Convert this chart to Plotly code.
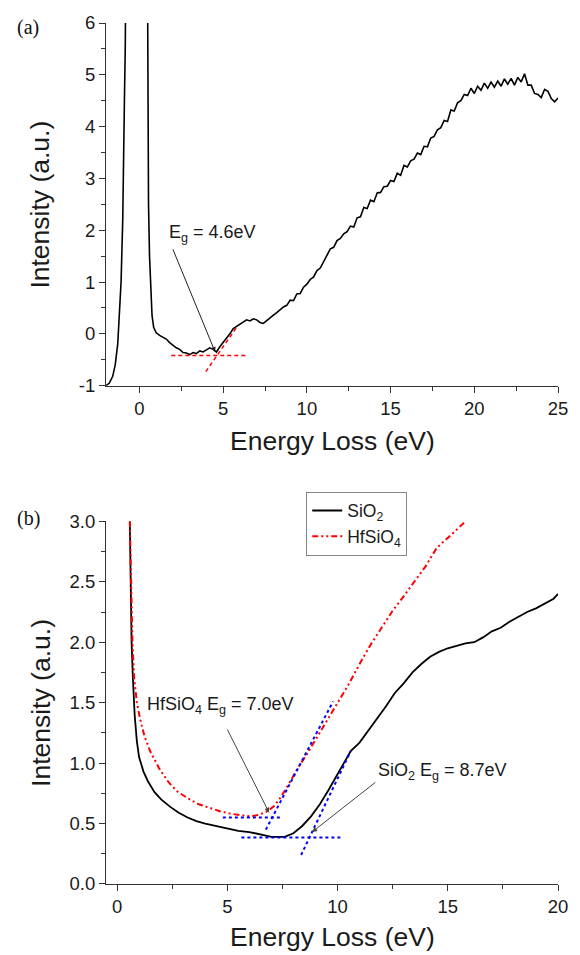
import plotly.graph_objects as go

# ---------------- Panel (a) data ----------------
top_x = [-2.0, -1.8, -1.6, -1.45, -1.3, -1.2, -1.1, -1.0, -0.95, -0.9, -0.85, -0.8, -0.6, 0.0, 0.3,
         0.46, 0.5, 0.54, 0.6, 0.68, 0.75, 0.85, 1.0, 1.2, 1.4, 1.6, 1.8, 2.0, 2.2, 2.4, 2.6, 2.8,
         3.0, 3.2, 3.4, 3.6, 3.8, 4.0, 4.2, 4.4, 4.6, 4.8, 5.0, 5.2, 5.4, 5.6, 5.8, 6.0, 6.2, 6.4,
         6.6, 6.8, 7.0, 7.2, 7.4, 7.6, 7.8, 8.0, 8.2, 8.4, 8.6, 8.8, 9.0, 9.2, 9.4, 9.6, 9.8, 10.0,
         10.2, 10.4, 10.6, 10.8, 11.0, 11.2, 11.4, 11.6, 11.8, 12.0, 12.2, 12.4, 12.6, 12.8, 13.0,
         13.2, 13.4, 13.6, 13.8, 14.0, 14.2, 14.4, 14.6, 14.8, 15.0, 15.2, 15.4, 15.6, 15.8, 16.0,
         16.2, 16.4, 16.6, 16.8, 17.0, 17.2, 17.4, 17.6, 17.8, 18.0, 18.2, 18.4, 18.6, 18.8, 19.0,
         19.2, 19.4, 19.6, 19.8, 20.0, 20.2, 20.4, 20.6, 20.8, 21.0, 21.2, 21.4, 21.6, 21.8, 22.0,
         22.2, 22.4, 22.6, 22.8, 23.0, 23.2, 23.4, 23.6, 23.8, 24.0, 24.2, 24.4, 24.6, 24.8, 25.0]
top_y = [-1.0, -0.95, -0.82, -0.6, -0.2, 0.3, 1.0, 2.2, 3.0, 4.5, 5.5, 7.0, 20.0, 40.0, 20.0,
         7.0, 5.2, 2.5, 1.5, 0.8, 0.35, 0.12, 0.02, -0.03, -0.07, -0.1, -0.17, -0.22, -0.27, -0.30,
         -0.36, -0.37, -0.40, -0.36, -0.38, -0.33, -0.35, -0.31, -0.27, -0.30, -0.35, -0.25, -0.17,
         -0.08, 0.0, 0.1, 0.14, 0.19, 0.23, 0.27, 0.25, 0.29, 0.27, 0.22, 0.20, 0.26, 0.30, 0.36,
         0.41, 0.46, 0.52, 0.55, 0.65, 0.64, 0.77, 0.78, 0.90, 0.96, 1.05, 1.10, 1.22, 1.27, 1.40,
         1.50, 1.64, 1.67, 1.80, 1.84, 1.93, 1.97, 2.08, 2.06, 2.24, 2.26, 2.44, 2.42, 2.58, 2.55,
         2.72, 2.73, 2.84, 2.85, 2.96, 2.94, 3.10, 3.06, 3.25, 3.22, 3.34, 3.37, 3.49, 3.46, 3.62,
         3.61, 3.78, 3.81, 3.94, 3.98, 4.12, 4.10, 4.32, 4.30, 4.46, 4.50, 4.62, 4.60, 4.74, 4.64,
         4.78, 4.70, 4.84, 4.74, 4.86, 4.76, 4.88, 4.78, 4.92, 4.82, 4.93, 4.80, 4.95, 4.86, 5.02,
         4.80, 4.80, 4.64, 4.62, 4.56, 4.72, 4.68, 4.54, 4.48, 4.55]

# tangent construction lines (a)
a_base_x = [1.9, 6.4]
a_base_y = [-0.42, -0.42]
a_tan_x = [3.96, 5.77]
a_tan_y = [-0.73, 0.11]

# ---------------- Panel (b) data ----------------
sio2_x = [0.58, 0.62, 0.66, 0.72, 0.8, 0.9, 1.0, 1.2, 1.4, 1.7, 2.0, 2.4, 2.8, 3.2, 3.6, 4.0, 4.5,
          5.0, 5.5, 6.0, 6.5, 7.0, 7.3, 7.6, 8.0, 8.4, 8.8, 9.2, 9.6, 10.0, 10.3, 10.6, 11.0, 11.4,
          11.8, 12.2, 12.6, 13.0, 13.4, 13.8, 14.2, 14.6, 15.0, 15.4, 15.8, 16.2, 16.6, 17.0, 17.4,
          17.8, 18.2, 18.6, 19.0, 19.4, 19.8, 20.0]
sio2_y = [3.0, 2.5, 2.0, 1.7, 1.4, 1.18, 1.05, 0.93, 0.85, 0.76, 0.70, 0.64, 0.59, 0.55, 0.52, 0.50,
          0.48, 0.46, 0.44, 0.43, 0.41, 0.39, 0.39, 0.39, 0.42, 0.48, 0.56, 0.66, 0.78, 0.91, 1.01,
          1.10, 1.17, 1.27, 1.36, 1.47, 1.58, 1.66, 1.75, 1.82, 1.88, 1.92, 1.95, 1.97, 1.99, 2.00,
          2.04, 2.09, 2.12, 2.17, 2.21, 2.25, 2.28, 2.32, 2.36, 2.40]

hf_x = [0.58, 0.63, 0.7, 0.78, 0.9, 1.04, 1.25, 1.5, 1.9, 2.3, 2.7, 3.2, 3.7, 4.2, 4.7, 5.2, 5.6,
        6.0, 6.4, 6.8, 7.1, 7.4, 7.8, 8.2, 8.6, 9.0, 9.5, 10.0, 10.5, 11.0, 11.5, 12.0, 12.5, 13.0,
        13.5, 14.0, 14.5, 15.0, 15.4, 15.8]
hf_y = [3.0, 2.5, 2.0, 1.7, 1.5, 1.37, 1.22, 1.10, 0.96, 0.85, 0.77, 0.71, 0.66, 0.63, 0.60, 0.58,
        0.57, 0.56, 0.57, 0.60, 0.64, 0.71, 0.83, 0.96, 1.07, 1.19, 1.35, 1.50, 1.65, 1.82, 1.98,
        2.12, 2.26, 2.38, 2.50, 2.63, 2.78, 2.86, 2.93, 3.0]

# tangent construction lines (b)
hf_base_x = [4.8, 7.5]
hf_base_y = [0.55, 0.55]
hf_tan_x = [6.75, 9.8]
hf_tan_y = [0.45, 1.51]
si_base_x = [5.64, 10.2]
si_base_y = [0.385, 0.385]
si_tan_x = [8.35, 10.6]
si_tan_y = [0.24, 1.10]

# tick labels
a_xticks = [0, 5, 10, 15, 20, 25]
a_yticks = [-1, 0, 1, 2, 3, 4, 5, 6]
a_yticktext = ["-1", "0", "1", "2", "3", "4", "5", "6"]
b_xticks = [0, 5, 10, 15, 20]
b_yticks = [0.0, 0.5, 1.0, 1.5, 2.0, 2.5, 3.0]
b_yticktext = ["0.0", "0.5", "1.0", "1.5", "2.0", "2.5", "3.0"]

FONT = "Liberation Sans, Arial, sans-serif"
AX = "#333333"

fig = go.Figure()

# (a)
fig.add_trace(go.Scatter(x=top_x, y=top_y, mode="lines", line=dict(color="black", width=1.6),
                         xaxis="x", yaxis="y", showlegend=False))
fig.add_trace(go.Scatter(x=a_base_x, y=a_base_y, mode="lines",
                         line=dict(color="red", width=1.5, dash="4px,3px"),
                         xaxis="x", yaxis="y", showlegend=False))
fig.add_trace(go.Scatter(x=a_tan_x, y=a_tan_y, mode="lines",
                         line=dict(color="red", width=1.5, dash="4px,3px"),
                         xaxis="x", yaxis="y", showlegend=False))

# (b)
fig.add_trace(go.Scatter(x=sio2_x, y=sio2_y, mode="lines", name="SiO<sub>2</sub>",
                         line=dict(color="black", width=1.8), xaxis="x2", yaxis="y2"))
fig.add_trace(go.Scatter(x=hf_x, y=hf_y, mode="lines", name="HfSiO<sub>4</sub>",
                         line=dict(color="red", width=2, dash="6px,3px,2px,3px,2px,3px"),
                         xaxis="x2", yaxis="y2"))
for bx, by in [(hf_base_x, hf_base_y), (hf_tan_x, hf_tan_y), (si_base_x, si_base_y), (si_tan_x, si_tan_y)]:
    fig.add_trace(go.Scatter(x=bx, y=by, mode="lines",
                             line=dict(color="blue", width=2, dash="3px,3px"),
                             xaxis="x2", yaxis="y2", showlegend=False))

axis_common = dict(showline=True, linecolor=AX, linewidth=1, ticks="outside", ticklen=6,
                   tickcolor=AX, tickwidth=1, showgrid=False, zeroline=False, mirror=False,
                   tickfont=dict(family=FONT, size=18.5, color="#1a1a1a"))

fig.update_layout(
    width=580, height=955,
    margin=dict(l=106, r=20, t=15, b=71),
    plot_bgcolor="white", paper_bgcolor="white",
    font=dict(family=FONT, color="#1a1a1a"),
    xaxis=dict(domain=[0, 1], range=[-2, 25], anchor="y", tickmode="array", tickvals=a_xticks,
               minor=dict(ticks="outside", ticklen=4, dtick=2.5, tick0=0, tickcolor=AX),
               **axis_common),
    yaxis=dict(domain=[0.5788, 1], range=[-1, 6], anchor="x", tickmode="array",
               tickvals=a_yticks, ticktext=a_yticktext,
               minor=dict(ticks="outside", ticklen=4, dtick=0.5, tick0=0, tickcolor=AX),
               **axis_common),
    xaxis2=dict(domain=[0, 1], range=[-0.5, 20], anchor="y2", tickmode="array", tickvals=b_xticks,
                minor=dict(ticks="outside", ticklen=4, dtick=2.5, tick0=0, tickcolor=AX),
                **axis_common),
    yaxis2=dict(domain=[0, 0.4212], range=[0, 3], anchor="x2", tickmode="array",
                tickvals=b_yticks, ticktext=b_yticktext,
                minor=dict(ticks="outside", ticklen=4, dtick=0.25, tick0=0, tickcolor=AX),
                **axis_common),
    legend=dict(x=0.443, y=0.4557, xanchor="left", yanchor="top", bgcolor="white",
                bordercolor="#888", borderwidth=1, font=dict(family=FONT, size=17.5, color="#1a1a1a"),
                tracegroupgap=0),
)

ann = []
# axis titles
for y in [0.7894, 0.2106]:
    ann.append(dict(text="Intensity (a.u.)", xref="paper", yref="paper", x=-0.1454, y=y,
                    textangle=-90, showarrow=False, xanchor="center", yanchor="middle",
                    font=dict(family=FONT, size=26.5, color="#1a1a1a")))
for y in [0.5144, -0.0621]:
    ann.append(dict(text="Energy Loss (eV)", xref="paper", yref="paper", x=0.5, y=y,
                    showarrow=False, xanchor="center", yanchor="middle",
                    font=dict(family=FONT, size=26.5, color="#1a1a1a")))
# panel labels
ann.append(dict(text="(a)", xref="paper", yref="paper", x=-0.172, y=0.995, showarrow=False,
                xanchor="center", yanchor="middle",
                font=dict(family="Liberation Serif, Times New Roman, serif", size=20, color="#111")))
ann.append(dict(text="(b)", xref="paper", yref="paper", x=-0.172, y=0.4246, showarrow=False,
                xanchor="center", yanchor="middle",
                font=dict(family="Liberation Serif, Times New Roman, serif", size=20, color="#111")))

# Eg annotations
ann.append(dict(text="E<sub>g</sub> = 4.6eV", xref="x", yref="y", x=1.67, y=1.93, showarrow=False,
                xanchor="left", yanchor="middle", font=dict(family=FONT, size=18, color="#1a1a1a")))
ann.append(dict(text="", xref="x", yref="y", x=4.52, y=-0.35, ax=1.96, ay=1.66, axref="x",
                ayref="y", showarrow=True, arrowhead=2, arrowsize=1, arrowwidth=1,
                arrowcolor="#222", standoff=0))
ann.append(dict(text="HfSiO<sub>4</sub> E<sub>g</sub> = 7.0eV", xref="x2", yref="y2", x=1.26,
                y=1.48, showarrow=False, xanchor="left", yanchor="middle",
                font=dict(family=FONT, size=18, color="#1a1a1a")))
ann.append(dict(text="", xref="x2", yref="y2", x=6.9, y=0.59, ax=4.97, ay=1.29, axref="x2",
                ayref="y2", showarrow=True, arrowhead=2, arrowsize=1, arrowwidth=1,
                arrowcolor="#444", standoff=0))
ann.append(dict(text="SiO<sub>2</sub> E<sub>g</sub> = 8.7eV", xref="x2", yref="y2", x=11.74,
                y=0.93, showarrow=False, xanchor="left", yanchor="middle",
                font=dict(family=FONT, size=18, color="#1a1a1a")))
ann.append(dict(text="", xref="x2", yref="y2", x=8.85, y=0.43, ax=11.78, ay=0.85, axref="x2",
                ayref="y2", showarrow=True, arrowhead=2, arrowsize=1, arrowwidth=1,
                arrowcolor="#444", standoff=0))

fig.update_layout(annotations=ann)

fig.write_html("out.html")
